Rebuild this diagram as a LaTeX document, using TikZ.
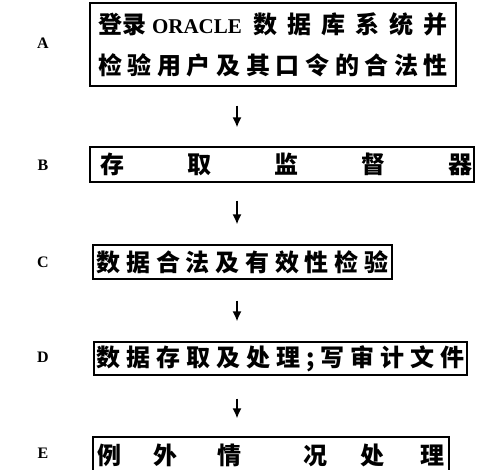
\documentclass[tikz,border=0pt]{standalone}
\usepackage{fontspec}
\setmainfont{Liberation Serif}
\newfontfamily\cjk{Noto Sans CJK SC}
\usetikzlibrary{arrows.meta}
\begin{document}
\begin{tikzpicture}[x=1pt,y=-1pt,
  box/.style={draw, line width=1.2pt, inner sep=0pt, rectangle},
  lab/.style={font=\fontsize{16}{16}\selectfont\bfseries, inner sep=0pt},
  arr/.style={line width=1.7pt, -{Latex[length=10pt,width=9pt]}},
  ctext/.style={font=\cjk\bfseries\fontsize{24}{41}\selectfont}]
\useasboundingbox (0,0) rectangle (481,470);
\coordinate (ax) at (237,0);

\node[box, ctext, align=center, minimum width=366pt, minimum height=83pt] (A) at (273,44.5)
 {\makebox[350pt][l]{登录\hspace{6pt}{\rmfamily\bfseries\fontsize{21}{21}\selectfont ORACLE}\hfill\makebox[195pt][s]{数\hfill 据\hfill 库\hfill 系\hfill 统\hfill 并}}\\
  \makebox[350pt][s]{检\hfill 验\hfill 用\hfill 户\hfill 及\hfill 其\hfill 口\hfill 令\hfill 的\hfill 合\hfill 法\hfill 性}};

\node[box, ctext, minimum width=384pt, minimum height=35pt] (B) at (282,164.5)
 {\hspace{9pt}\makebox[373pt][s]{存\hfill 取\hfill 监\hfill 督\hfill 器}};

\node[box, ctext, minimum width=299pt, minimum height=34pt] (C) at (242.5,262)
 {\makebox[292pt][s]{数\hfill 据\hfill 合\hfill 法\hfill 及\hfill 有\hfill 效\hfill 性\hfill 检\hfill 验}};

\node[box, ctext, minimum width=373pt, minimum height=33pt] (D) at (280.5,358.5)
 {\makebox[368pt][s]{数\hfill 据\hfill 存\hfill 取\hfill 及\hfill 处\hfill 理\hfill ;\hfill 写\hfill 审\hfill 计\hfill 文\hfill 件}};

\node[box, ctext, minimum width=356pt, minimum height=37pt] (E) at (271,455.5)
 {例\hspace{32pt}外\hspace{40pt}情\hspace{62pt}况\hspace{33pt}处\hspace{36pt}理};

\node[lab] (la) at (43,43) {A};
\node[lab] (lb) at (43,165) {B};
\node[lab] (lc) at (43,262) {C};
\node[lab] (ld) at (43,357) {D};
\node[lab] (le) at (43,453) {E};

\draw[arr, shorten <=19pt, shorten >=19pt] (A.south -| ax) -- (B.north -| ax);
\draw[arr, shorten <=18pt, shorten >=20pt] (B.south -| ax) -- (C.north -| ax);
\draw[arr, shorten <=21pt, shorten >=20pt] (C.south -| ax) -- (D.north -| ax);
\draw[arr, shorten <=23pt, shorten >=18pt] (D.south -| ax) -- (E.north -| ax);
\end{tikzpicture}
\end{document}
